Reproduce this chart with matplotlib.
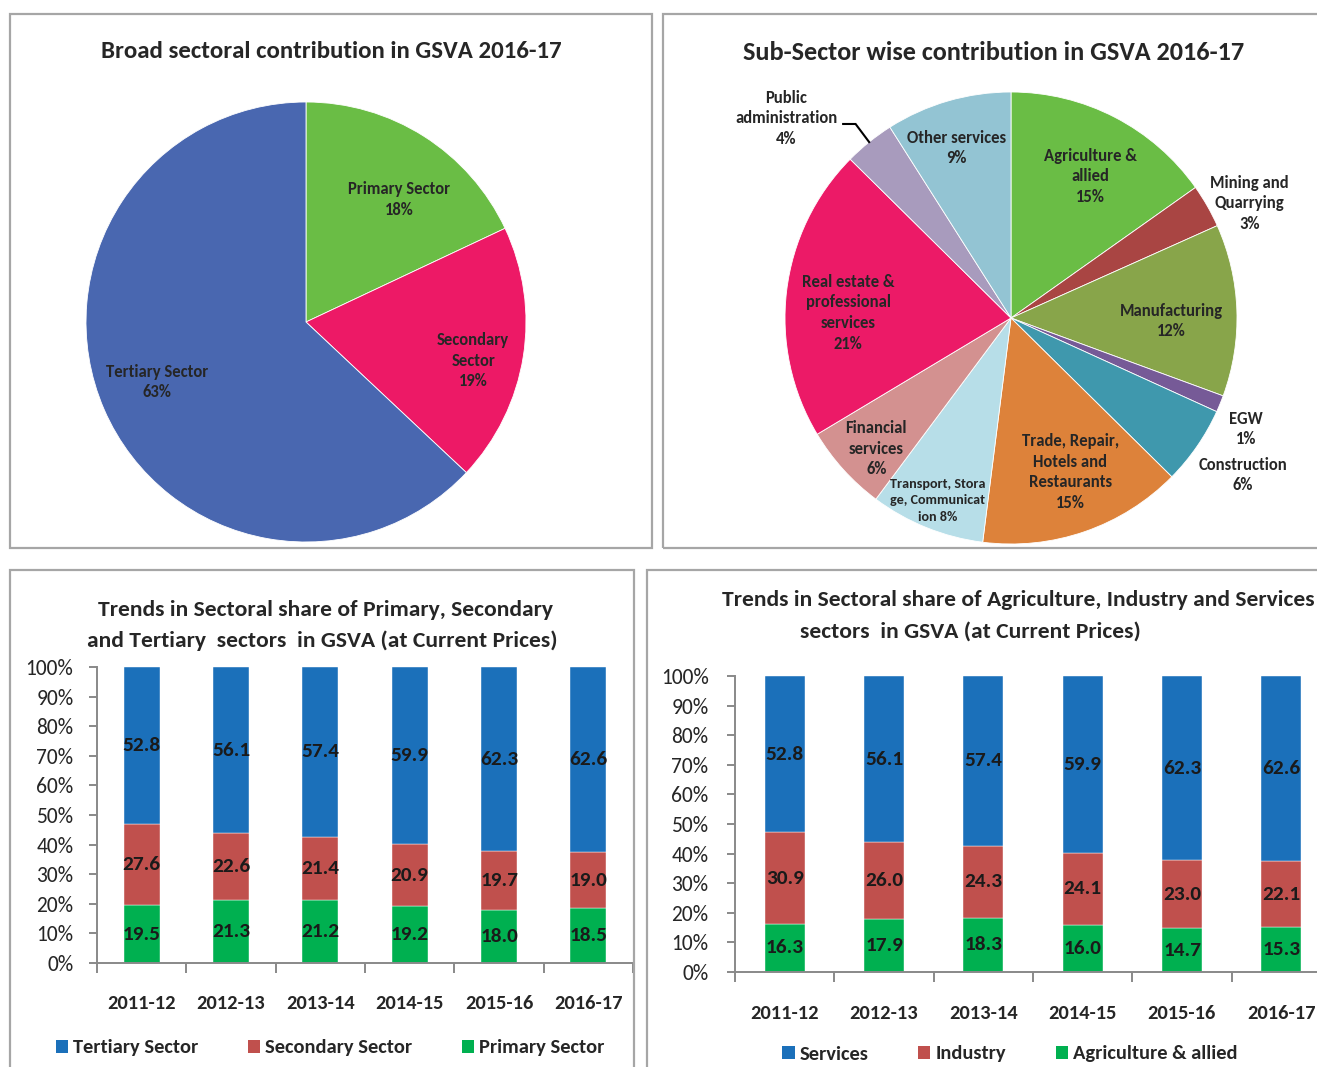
import matplotlib
matplotlib.use('Agg')
import matplotlib.pyplot as plt
import numpy as np
from matplotlib.patches import Rectangle, Patch

W, H = 1317, 1067

# --- data -------------------------------------------------------------
broad_labels = ['Primary Sector', 'Secondary\nSector', 'Tertiary Sector']
broad_share = [18, 19, 63]

sub_labels = ['Agriculture &\nallied', 'Mining and\nQuarrying', 'Manufacturing',
              'EGW', 'Construction', 'Trade, Repair,\nHotels and\nRestaurants',
              'Transport, Stora\nge, Communicat\nion', 'Financial\nservices',
              'Real estate &\nprofessional\nservices', 'Public\nadministration',
              'Other services']
sub_share = [15.2, 3.1, 12.3, 1.2, 5.6, 14.6, 8.2, 6.2, 21.0, 3.6, 9.0]

years = ['2011-12', '2012-13', '2013-14', '2014-15', '2015-16', '2016-17']
tertiary = [52.8, 56.1, 57.4, 59.9, 62.3, 62.6]
secondary = [27.6, 22.6, 21.4, 20.9, 19.7, 19.0]
primary = [19.5, 21.3, 21.2, 19.2, 18.0, 18.5]
services = [52.8, 56.1, 57.4, 59.9, 62.3, 62.6]
industry = [30.9, 26.0, 24.3, 24.1, 23.0, 22.1]
agriculture = [16.3, 17.9, 18.3, 16.0, 14.7, 15.3]

FONT = ['Carlito', 'Lato', 'DejaVu Sans']
plt.rcParams['font.family'] = FONT
TXT = '#262626'
BORDER = '#A6A6A6'

fig = plt.figure(figsize=(W / 100, H / 100), dpi=100)


def px_axes(l, t, r, b):
    return fig.add_axes([l / W, 1 - b / H, (r - l) / W, (b - t) / H])


def fig_text(x, y, s, **kw):
    fig.text(x / W, 1 - y / H, s, ha='center', va='center', **kw)


def border(l, t, r, b):
    fig.patches.append(Rectangle((l / W, 1 - b / H), (r - l) / W, (b - t) / H,
                                 transform=fig.transFigure, fill=False,
                                 edgecolor=BORDER, linewidth=1.6))


for box in [(10, 14, 652, 548), (663, 14, 1330, 548),
            (10, 570, 634, 1080), (647, 570, 1330, 1080)]:
    border(*box)


def pie_panel(ax, values, labels, colors, dists, nudges, sizes):
    wedges, _ = ax.pie(values, colors=colors, startangle=90, counterclock=False,
                       radius=1, wedgeprops=dict(linewidth=0.6, edgecolor='white'))
    for w, lab, v, d, n, fs in zip(wedges, labels, values, dists, nudges, sizes):
        mid = np.deg2rad((w.theta1 + w.theta2) / 2 + n)
        sep = ' ' if 'Stora' in lab else '\n'
        ax.text(d * np.cos(mid), d * np.sin(mid), f'{lab}{sep}{round(v)}%',
                ha='center', va='center', fontsize=fs, fontweight='bold',
                color=TXT, linespacing=1.36 if fs > 11 else 1.45)
    ax.set_xlim(-1, 1)
    ax.set_ylim(-1, 1)
    ax.set_aspect('equal')
    ax.axis('off')
    return wedges


# --- top left pie ------------------------------------------------------
ax1 = px_axes(306 - 220, 322 - 220, 306 + 220, 322 + 220)
pie_panel(ax1, broad_share, broad_labels, ['#6ABD45', '#ED1966', '#4967B0'],
          [0.70, 0.78, 0.73], [-5, -4, -1.5], [12, 12, 12])
fig_text(331, 51, 'Broad sectoral contribution in GSVA 2016-17',
         fontsize=17.9, fontweight='bold', color=TXT)

# --- top right pie -----------------------------------------------------
sub_colors = ['#6ABD45', '#A94543', '#88A54A', '#765A97', '#3F98AD', '#DD823A',
              '#B7DEE8', '#D39190', '#EC1A67', '#A89BBD', '#93C4D3']
ax2 = px_axes(1011 - 226, 318 - 226, 1011 + 226, 318 + 226)
wedges = pie_panel(ax2, sub_share, sub_labels, sub_colors,
                   [0.72, 1.17, 0.71, 1.15, 1.24, 0.73, 0.87, 0.83, 0.72, 1.33, 0.79],
                   [-2, -4, -3, -3, 0.5, 2, 0, 2, 5, 9.5, 1.5],
                   [12, 12, 12, 12, 12, 12, 10.2, 12, 12, 12, 12])
pa = wedges[9]
m = np.deg2rad((pa.theta1 + pa.theta2) / 2)
p0 = np.array([np.cos(m), np.sin(m)])
ax2.plot([p0[0] - 0.115, p0[0] - 0.06, p0[0]], [p0[1] + 0.08, p0[1] + 0.08, p0[1]],
         color='black', lw=1.5, clip_on=False, solid_joinstyle='miter')
fig_text(994, 52, 'Sub-Sector wise contribution in GSVA 2016-17',
         fontsize=18.9, fontweight='bold', color=TXT)


# --- stacked bars --------------------------------------------------------
def bar_panel(ax, series, names, colors, legend_xy, ypad, xpad):
    x = np.arange(len(years))
    bottom = np.zeros(len(years))
    handles = []
    for vals, name, c in zip(series, names, colors):
        vals = np.array(vals)
        ax.bar(x, vals, 0.4, bottom=bottom, color=c, edgecolor='white', linewidth=0.3)
        for xi, v, b in zip(x, vals, bottom):
            ax.text(xi, b + v / 2, f'{v:.1f}', ha='center', va='center', fontsize=15.3,
                    fontweight='bold', color='#1A1A1A')
        bottom += vals
        handles.append(Patch(facecolor=c, label=name))
    ax.set_xlim(-0.5, len(years) - 0.5)
    ax.set_ylim(0, 100)
    ax.set_yticks(range(0, 101, 10))
    ax.set_yticklabels([f'{v}%' for v in range(0, 101, 10)], fontsize=15.5, color=TXT)
    ax.set_xticks(x)
    ax.set_xticklabels(years, fontsize=14.8, fontweight='bold', color=TXT)
    ax.set_xticks(np.arange(-0.5, len(years)), minor=True)
    ax.tick_params(axis='x', which='major', length=0, pad=xpad)
    ax.tick_params(axis='x', which='minor', length=7, width=1.4, color='#898989')
    ax.tick_params(axis='y', length=6, width=1.4, color='#898989', pad=ypad)
    for s in ['top', 'right']:
        ax.spines[s].set_visible(False)
    for s in ['left', 'bottom']:
        ax.spines[s].set_color('#898989')
        ax.spines[s].set_linewidth(1.4)
    fig.legend(handles=handles[::-1], loc='center',
               bbox_to_anchor=(legend_xy[0] / W, 1 - legend_xy[1] / H),
               ncol=3, frameon=False, handlelength=0.6, handleheight=0.6,
               handletextpad=0.25, columnspacing=2.4,
               prop=dict(size=14.8, weight='bold'), labelcolor=TXT)


ax3 = px_axes(97, 667, 633, 963)
bar_panel(ax3, [primary, secondary, tertiary],
          ['Primary Sector', 'Secondary Sector', 'Tertiary Sector'],
          ['#00B050', '#C0504D', '#1B70BA'], (330, 1048), 11, 23)
fig_text(326, 610, 'Trends in Sectoral share of Primary, Secondary',
         fontsize=16.9, fontweight='bold', color=TXT)
fig_text(322, 641, 'and Tertiary  sectors  in GSVA (at Current Prices)',
         fontsize=16.9, fontweight='bold', color=TXT)

ax4 = px_axes(735, 676, 1331, 972)
bar_panel(ax4, [agriculture, industry, services],
          ['Agriculture & allied', 'Industry', 'Services'],
          ['#00B050', '#C0504D', '#1B70BA'], (1010, 1054), 13, 24)
fig_text(1018, 600, 'Trends in Sectoral share of Agriculture, Industry and Services',
         fontsize=16.9, fontweight='bold', color=TXT)
fig_text(970, 632, 'sectors  in GSVA (at Current Prices)',
         fontsize=16.9, fontweight='bold', color=TXT)

fig.savefig('out.png', dpi=100)
